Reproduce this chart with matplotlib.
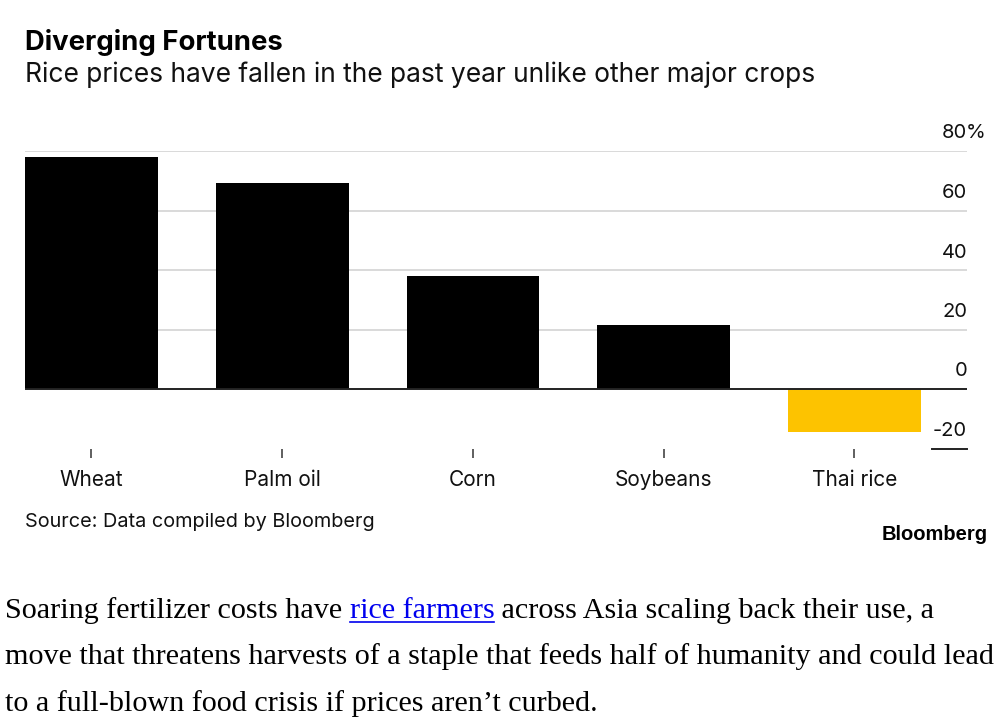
import numpy as np
import matplotlib
matplotlib.use('Agg')
import matplotlib.pyplot as plt
from matplotlib.lines import Line2D

crops = ['Wheat', 'Palm oil', 'Corn', 'Soybeans', 'Thai rice']
changes = [78, 69.3, 38, 21.5, -14.5]
bar_colors = ['#000000', '#000000', '#000000', '#000000', '#fdc300']
yticks = [80, 60, 40, 20, 0, -20]
ytick_labels = ['80', '60', '40', '20', '0', '-20']

plt.rcParams['font.family'] = ['Inter', 'DejaVu Sans']

fig = plt.figure(figsize=(10.05, 7.2), dpi=100)
W, H = 1005, 720
ax = fig.add_axes([25 / W, (H - 448.5) / H, (967 - 25) / W, (448.5 - 151) / H])

x = np.arange(len(crops))
ax.bar(x, changes, width=0.696, color=bar_colors, zorder=2)
ax.set_xlim(-0.348, 4.59)
ax.set_ylim(-20, 80)

# gridlines
for v in yticks:
    if v == 0:
        ax.axhline(v, color='#222222', lw=1.4, zorder=3)
    elif v == -20:
        ax.plot([0.963, 1.0], [v, v], transform=ax.get_yaxis_transform(),
                color='#222222', lw=1.4, clip_on=False)
    else:
        ax.axhline(v, color='#d9d9d9', lw=1.4, zorder=1)

for v, lab in zip(yticks, ytick_labels):
    ax.annotate(lab, xy=(1.0, v), xycoords=ax.get_yaxis_transform(), xytext=(0, 9),
                textcoords='offset points', ha='right', va='baseline',
                fontsize=14.5, color='#111111')
ax.annotate('%', xy=(1.0, 80), xycoords=ax.get_yaxis_transform(), xytext=(-1, 9),
            textcoords='offset points', ha='left', va='baseline', fontsize=14.5, color='#111111')

for s in ax.spines.values():
    s.set_visible(False)
ax.set_yticks([])
ax.set_xticks(x)
ax.set_xticklabels(crops, fontsize=15, color='#111111')
ax.tick_params(axis='x', length=6.5, width=1.2, color='#444444', pad=9)
for t in ax.xaxis.get_major_ticks():
    t.tick1line.set_marker(matplotlib.lines.TICKDOWN)

fig.text(25 / W, (H - 43) / H, 'Diverging Fortunes', fontsize=19.8, fontweight='bold',
         va='center', ha='left', color='#000000')
fig.text(25 / W, (H - 75) / H, 'Rice prices have fallen in the past year unlike other major crops',
         fontsize=19, va='center', ha='left', color='#111111')
fig.text(25 / W, (H - 522) / H, 'Source: Data compiled by Bloomberg', fontsize=14.3,
         va='center', ha='left', color='#111111')
fig.text(988 / W, (H - 534) / H, 'Bloomberg', fontsize=14.5, fontweight='bold',
         family=['Liberation Sans', 'DejaVu Sans'],
         va='center', ha='right', color='#000000')

# body paragraph (serif, with link)
body_fs = 21.7
serif = ['Liberation Serif', 'DejaVu Serif']
fig.canvas.draw()
r = fig.canvas.get_renderer()
y1 = (H - 618) / H
t0 = fig.text(5 / W, y1, 'Soaring fertilizer costs have ', fontsize=body_fs, family=serif,
              va='baseline', ha='left', color='#000000')
e0 = t0.get_window_extent(r)
t1 = fig.text(e0.x1 / W, y1, 'rice farmers', fontsize=body_fs, family=serif,
              va='baseline', ha='left', color='#0000ee')
e1 = t1.get_window_extent(r)
fig.add_artist(Line2D([e1.x0 / W, e1.x1 / W], [(y1 * H - 4) / H] * 2, color='#0000ee', lw=1.2))
fig.text(e1.x1 / W, y1, ' across Asia scaling back their use, a', fontsize=body_fs, family=serif,
         va='baseline', ha='left', color='#000000')
fig.text(5 / W, (H - 664) / H,
         'move that threatens harvests of a staple that feeds half of humanity and could lead',
         fontsize=body_fs, family=serif, va='baseline', ha='left', color='#000000')
fig.text(5 / W, (H - 711) / H, 'to a full-blown food crisis if prices aren\u2019t curbed.',
         fontsize=body_fs, family=serif, va='baseline', ha='left', color='#000000')

fig.savefig('out.png', dpi=100)
